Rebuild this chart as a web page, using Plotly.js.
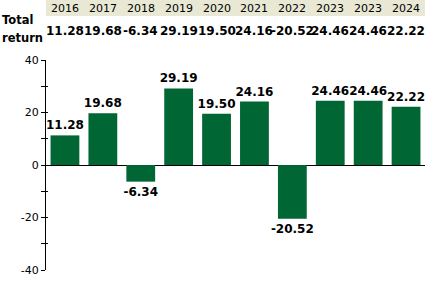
<!DOCTYPE html>
<html><head><meta charset="utf-8">
<script src="https://cdn.plot.ly/plotly-3.0.1.min.js"></script>
<style>html,body{margin:0;padding:0;background:#fff}#c{width:425px;height:288px}</style>
</head><body><div id="c"></div>
<script>
var years = ["2016","2017","2018","2019","2020","2021","2022","2023","2023","2024"];
var totalReturn = [11.28, 19.68, -6.34, 29.19, 19.50, 24.16, -20.52, 24.46, 24.46, 22.22];
var rowLabelLines = ["Total", "return"];
var tickValues = [-40, -20, 0, 20, 40];
var tickLabels = ["-40", "-20", "0", "20", "40"];

var idx = years.map(function(_, i){ return i; });
var labels = totalReturn.map(function(v){ return v.toFixed(2); });

var trace = {
  type: 'bar', x: idx, y: totalReturn,
  marker: {color: '#006633'},
  text: labels, textposition: 'outside', cliponaxis: false, constraintext: 'none',
  textfont: {family: 'DejaVu Sans', size: 12, color: '#000', weight: 'bold'},
  hoverinfo: 'none'
};
var tickTrace = {type: 'scatter', x: [], y: [], yaxis: 'y2', hoverinfo: 'none'};

var ann = [];
years.forEach(function(y, i){
  ann.push({x: i, xref: 'x', y: 1.2476, yref: 'paper', text: y, showarrow: false,
    xanchor: 'center', yanchor: 'middle', font: {family: 'DejaVu Sans', size: 11, color: '#000'}});
  ann.push({x: i, xref: 'x', y: 1.138, yref: 'paper', text: '<b>' + labels[i] + '</b>', showarrow: false,
    xanchor: 'center', yanchor: 'middle', font: {family: 'DejaVu Sans', size: 12, color: '#000'}});
});
ann.push({x: -0.1214, xref: 'paper', y: (270 - 20) / 210, yref: 'paper', text: '<b>' + rowLabelLines[0] + '</b>', showarrow: false,
  xanchor: 'left', yanchor: 'middle', align: 'left', font: {family: 'DejaVu Sans', size: 11.5, color: '#000'}});
ann.push({x: -0.1214, xref: 'paper', y: (270 - 38) / 210, yref: 'paper', text: '<b>' + rowLabelLines[1] + '</b>', showarrow: false,
  xanchor: 'left', yanchor: 'middle', align: 'left', font: {family: 'DejaVu Sans', size: 11.5, color: '#000'}});

var layout = {
  width: 425, height: 288,
  margin: {l: 46, r: 0, t: 60, b: 18, pad: 0},
  paper_bgcolor: '#fff', plot_bgcolor: '#fff',
  showlegend: false, bargap: 0.24,
  xaxis: {range: [-0.5, 9.5], showticklabels: false, ticks: '', showgrid: false, zeroline: false, showline: false, fixedrange: true},
  yaxis: {range: [-40, 40], tickmode: 'array', tickvals: tickValues, ticktext: tickLabels,
    ticks: 'outside', ticklen: 4, tickcolor: '#000',
    showgrid: false, zeroline: true, zerolinecolor: '#000', zerolinewidth: 1,
    showline: true, linecolor: '#000', linewidth: 1,
    minor: {dtick: 10, ticks: 'outside', ticklen: 4, tickcolor: '#000'},
    tickfont: {family: 'DejaVu Sans', size: 11, color: '#000'}, fixedrange: true},
  yaxis2: {overlaying: 'y', side: 'left', range: [-40, 40], dtick: 20, ticks: 'inside', ticklen: 2, tickcolor: '#000',
    showticklabels: false, showgrid: false, zeroline: false, showline: false,
    minor: {dtick: 10, ticks: 'inside', ticklen: 2, tickcolor: '#000'}, fixedrange: true},
  shapes: [{type: 'rect', xref: 'paper', yref: 'paper', x0: 0, x1: 1, y0: 1.2095, y1: 1.29,
    fillcolor: '#e8e8d4', line: {width: 0}, layer: 'below'}],
  annotations: ann
};
Plotly.newPlot('c', [trace, tickTrace], layout, {displayModeBar: false, staticPlot: true});
</script></body></html>
